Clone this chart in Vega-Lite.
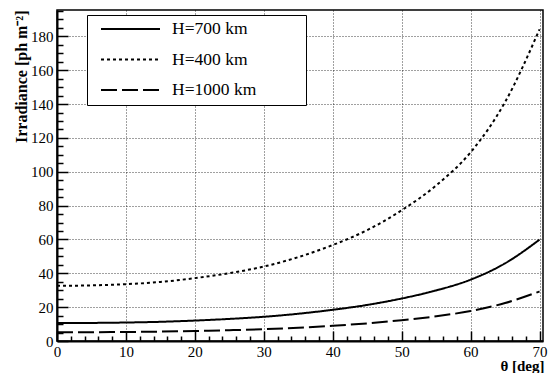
{
  "$schema": "https://vega.github.io/schema/vega-lite/v6.json",
  "width": 486,
  "height": 331,
  "autosize": {"type": "none"},
  "padding": {"left": 57, "top": 10, "right": 5, "bottom": 32},
  "background": "white",
  "config": {
    "view": {"stroke": "black", "strokeWidth": 1.5},
    "font": "Liberation Serif"
  },
  "data": {
    "values": [
      {"theta": 0, "irr": 10.6, "series": "H=700 km"},
      {"theta": 5, "irr": 10.68, "series": "H=700 km"},
      {"theta": 10, "irr": 10.92, "series": "H=700 km"},
      {"theta": 15, "irr": 11.34, "series": "H=700 km"},
      {"theta": 20, "irr": 12.08, "series": "H=700 km"},
      {"theta": 25, "irr": 13.04, "series": "H=700 km"},
      {"theta": 30, "irr": 14.31, "series": "H=700 km"},
      {"theta": 35, "irr": 16.11, "series": "H=700 km"},
      {"theta": 40, "irr": 18.44, "series": "H=700 km"},
      {"theta": 45, "irr": 21.31, "series": "H=700 km"},
      {"theta": 50, "irr": 25.12, "series": "H=700 km"},
      {"theta": 55, "irr": 29.89, "series": "H=700 km"},
      {"theta": 60, "irr": 36.25, "series": "H=700 km"},
      {"theta": 65, "irr": 45.9, "series": "H=700 km"},
      {"theta": 70, "irr": 59.9, "series": "H=700 km"},
      {"theta": 0, "irr": 32.6, "series": "H=400 km"},
      {"theta": 5, "irr": 32.86, "series": "H=400 km"},
      {"theta": 10, "irr": 33.58, "series": "H=400 km"},
      {"theta": 15, "irr": 34.88, "series": "H=400 km"},
      {"theta": 20, "irr": 37.16, "series": "H=400 km"},
      {"theta": 25, "irr": 40.1, "series": "H=400 km"},
      {"theta": 30, "irr": 44.01, "series": "H=400 km"},
      {"theta": 35, "irr": 49.55, "series": "H=400 km"},
      {"theta": 40, "irr": 56.72, "series": "H=400 km"},
      {"theta": 45, "irr": 65.53, "series": "H=400 km"},
      {"theta": 50, "irr": 77.26, "series": "H=400 km"},
      {"theta": 55, "irr": 91.93, "series": "H=400 km"},
      {"theta": 60, "irr": 111.5, "series": "H=400 km"},
      {"theta": 65, "irr": 141.2, "series": "H=400 km"},
      {"theta": 70, "irr": 184.2, "series": "H=400 km"},
      {"theta": 0, "irr": 5.18, "series": "H=1000 km"},
      {"theta": 5, "irr": 5.22, "series": "H=1000 km"},
      {"theta": 10, "irr": 5.34, "series": "H=1000 km"},
      {"theta": 15, "irr": 5.54, "series": "H=1000 km"},
      {"theta": 20, "irr": 5.91, "series": "H=1000 km"},
      {"theta": 25, "irr": 6.37, "series": "H=1000 km"},
      {"theta": 30, "irr": 6.99, "series": "H=1000 km"},
      {"theta": 35, "irr": 7.87, "series": "H=1000 km"},
      {"theta": 40, "irr": 9.01, "series": "H=1000 km"},
      {"theta": 45, "irr": 10.41, "series": "H=1000 km"},
      {"theta": 50, "irr": 12.28, "series": "H=1000 km"},
      {"theta": 55, "irr": 14.61, "series": "H=1000 km"},
      {"theta": 60, "irr": 17.72, "series": "H=1000 km"},
      {"theta": 65, "irr": 22.43, "series": "H=1000 km"},
      {"theta": 70, "irr": 29.27, "series": "H=1000 km"}
    ]
  },
  "mark": {"type": "line", "interpolate": "monotone", "color": "black", "strokeWidth": 2},
  "encoding": {
    "x": {
      "field": "theta",
      "type": "quantitative",
      "scale": {"domain": [0, 70.5], "nice": false, "zero": false},
      "axis": {
        "values": [0, 2, 4, 6, 8, 10, 12, 14, 16, 18, 20, 22, 24, 26, 28, 30, 32, 34, 36, 38, 40, 42, 44, 46, 48, 50, 52, 54, 56, 58, 60, 62, 64, 66, 68, 70],
        "title": "θ [deg]",
        "labelExpr": "datum.value % 10 === 0 ? datum.label : ''",
        "labelFontSize": 15,
        "labelColor": "black",
        "labelPadding": 13,
        "labelFlush": false,
        "labelOverlap": false,
        "tickSize": {"condition": {"test": "datum.value % 10 === 0", "value": -10}, "value": -5},
        "tickColor": "black",
        "tickWidth": 1.5,
        "domainColor": "black",
        "domainWidth": 2,
        "grid": true,
        "gridColor": "black",
        "gridDash": [1, 2],
        "gridWidth": 1,
        "gridOpacity": {"condition": {"test": "datum.value % 10 === 0 && datum.value > 0", "value": 0.75}, "value": 0},
        "titleFontSize": 15,
        "titleFontWeight": "bold",
        "titleColor": "black",
        "titleAnchor": "end",
        "titleAlign": "right",
        "titleBaseline": "alphabetic",
        "titleX": 487,
        "titleY": 29
      }
    },
    "y": {
      "field": "irr",
      "type": "quantitative",
      "scale": {"domain": [0, 195.6], "nice": false},
      "axis": {
        "values": [0, 5, 10, 15, 20, 25, 30, 35, 40, 45, 50, 55, 60, 65, 70, 75, 80, 85, 90, 95, 100, 105, 110, 115, 120, 125, 130, 135, 140, 145, 150, 155, 160, 165, 170, 175, 180, 185, 190, 195],
        "title": "Irradiance [ph m⁻²]",
        "labelExpr": "datum.value % 20 === 0 ? datum.label : ''",
        "labelFontSize": 15,
        "labelColor": "black",
        "labelPadding": 15,
        "labelFlush": false,
        "labelOverlap": false,
        "tickSize": {"condition": {"test": "datum.value % 20 === 0", "value": -11}, "value": -6},
        "tickColor": "black",
        "tickWidth": 1.5,
        "domainColor": "black",
        "domainWidth": 2,
        "grid": true,
        "gridColor": "black",
        "gridDash": [1, 2],
        "gridWidth": 1,
        "gridOpacity": {"condition": {"test": "datum.value % 20 === 0 && datum.value > 0", "value": 0.75}, "value": 0},
        "titleFontSize": 16,
        "titleFontWeight": "bold",
        "titleColor": "black",
        "titleAngle": 270,
        "titleAlign": "right",
        "titleBaseline": "alphabetic",
        "titleX": -31,
        "titleY": 0
      }
    },
    "strokeDash": {
      "field": "series",
      "type": "nominal",
      "scale": {"domain": ["H=700 km", "H=400 km", "H=1000 km"], "range": [[1, 0], [3, 3], [16, 5]]},
      "legend": {
        "orient": "none",
        "legendX": 30,
        "legendY": 5,
        "title": null,
        "symbolType": "stroke",
        "symbolSize": 3481,
        "symbolStrokeWidth": 2,
        "symbolStrokeColor": "black",
        "symbolOffset": 7,
        "clipHeight": 16,
        "labelFontSize": 17.5,
        "labelColor": "black",
        "labelOffset": 11,
        "labelLimit": 300,
        "labelExpr": "datum.label + '\u00a0\u00a0\u00a0\u00a0\u00a0\u00a0\u00a0\u00a0\u00a0\u00a0\u200b'",
        "rowPadding": 12.5,
        "padding": 6,
        "strokeColor": "black",
        "fillColor": "white",
        "cornerRadius": 0
      }
    }
  }
}
